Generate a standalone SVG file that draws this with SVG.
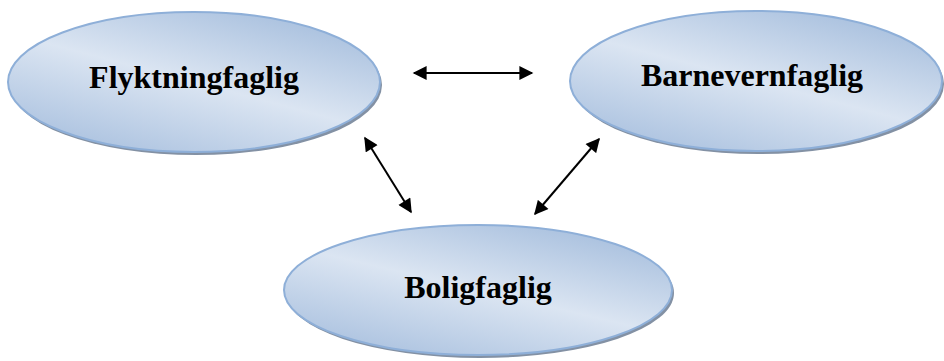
<svg xmlns="http://www.w3.org/2000/svg" width="944" height="361" viewBox="0 0 944 361">
<defs>
<linearGradient id="g" x1="0.85" y1="0" x2="0.15" y2="1">
<stop offset="0" stop-color="#a3bcdc"/>
<stop offset="0.5" stop-color="#dbe5f2"/>
<stop offset="1" stop-color="#a7bfde"/>
</linearGradient>
<marker id="ah" viewBox="0 0 10 10" refX="9" refY="5" markerWidth="7.5" markerHeight="7" markerUnits="strokeWidth" orient="auto-start-reverse">
<path d="M0,0 L10,5 L0,10 z" fill="#000"/>
</marker>
</defs>
<style>
.sh{fill:#8391a4;}
.el{fill:url(#g);stroke:#8eafd8;stroke-width:2;}
.lb{font-family:"Liberation Serif","Times New Roman",serif;font-weight:bold;font-size:32px;fill:#000;text-anchor:middle;}
.cn{stroke:#000;stroke-width:2;fill:none;marker-start:url(#ah);marker-end:url(#ah);}
</style>
<g id="flyktningfaglig">
<ellipse class="sh" cx="196" cy="85" rx="186" ry="70"/>
<ellipse class="el" cx="194" cy="82" rx="186" ry="70"/>
<text class="lb" x="194" y="88">Flyktningfaglig</text>
</g>
<g id="barnevernfaglig">
<ellipse class="sh" cx="758" cy="84" rx="186" ry="70"/>
<ellipse class="el" cx="756" cy="81" rx="186" ry="70"/>
<text class="lb" x="752" y="86">Barnevernfaglig</text>
</g>
<g id="boligfaglig">
<ellipse class="sh" cx="480" cy="293" rx="194" ry="65"/>
<ellipse class="el" cx="478" cy="290" rx="194" ry="65"/>
<text class="lb" x="478" y="298">Boligfaglig</text>
</g>
<g id="connectors">
<line class="cn" x1="414" y1="73" x2="532" y2="73"/>
<line class="cn" x1="365" y1="138" x2="411" y2="212"/>
<line class="cn" x1="599" y1="139" x2="535" y2="214"/>
</g>
</svg>
